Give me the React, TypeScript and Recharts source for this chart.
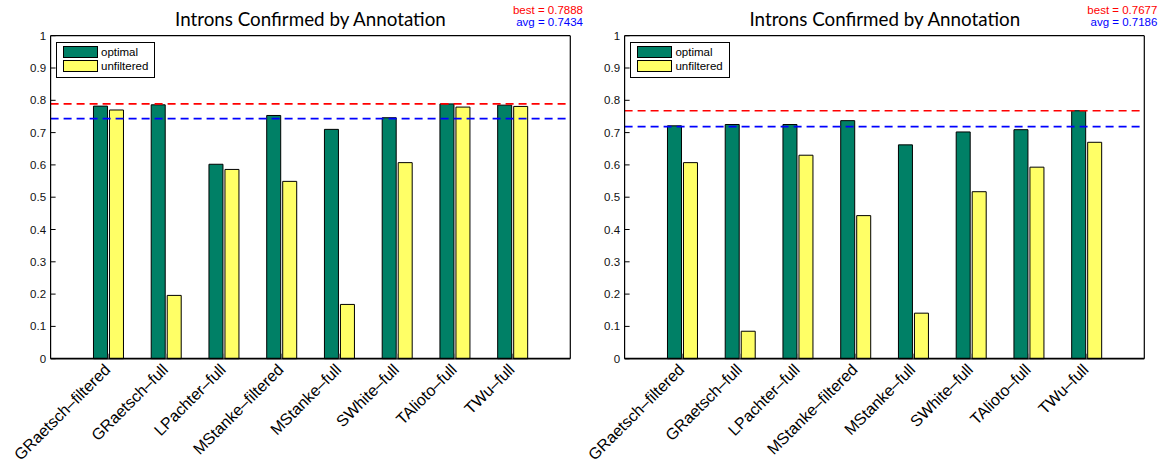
import React from 'react';
import { BarChart, Bar, XAxis, YAxis, ReferenceLine, Legend } from 'recharts';

const categories = [
  'GRaetsch–filtered',
  'GRaetsch–full',
  'LPachter–full',
  'MStanke–filtered',
  'MStanke–full',
  'SWhite–full',
  'TAlioto–full',
  'TWu–full',
];

const leftOptimal = [0.782, 0.786, 0.602, 0.753, 0.71, 0.746, 0.7888, 0.785];
const leftUnfiltered = [0.77, 0.196, 0.586, 0.549, 0.168, 0.607, 0.779, 0.781];
const leftBest = 0.7888;
const leftAvg = 0.7434;

const rightOptimal = [0.721, 0.725, 0.725, 0.737, 0.662, 0.702, 0.709, 0.7677];
const rightUnfiltered = [0.607, 0.085, 0.63, 0.443, 0.141, 0.517, 0.593, 0.67];
const rightBest = 0.7677;
const rightAvg = 0.7186;

const yTicks = [0, 0.1, 0.2, 0.3, 0.4, 0.5, 0.6, 0.7, 0.8, 0.9, 1];
const seriesNames = ['optimal', 'unfiltered'];

const GREEN = '#008066';
const YELLOW = '#ffff66';
const FONT = '"Liberation Sans", Arial, Helvetica, sans-serif';
const TITLE_FONT = 'Lato, "Open Sans", sans-serif';

const W = 593;
const H = 462;
const PLOT_LEFT = 50.6;
const PLOT_RIGHT = 570.3;
const PLOT_TOP = 35.7;

const AngledTick = (props: any) => {
  const { x, y, payload } = props;
  return (
    <g transform={`translate(${x + 3},${y}) rotate(-45)`}>
      <text x={0} y={0} textAnchor="end" fontSize={16} fontFamily={FONT} fill="#000">
        {payload.value}
      </text>
    </g>
  );
};

const LegendBox = () => (
  <div
    style={{
      border: '1px solid #000',
      background: '#fff',
      padding: '2px 6px 3px 6px',
      fontFamily: FONT,
      fontSize: 11.5,
      color: '#000',
    }}
  >
    {seriesNames.map((name, i) => (
      <div key={name} style={{ display: 'flex', alignItems: 'center', height: 14.3 }}>
        <span
          style={{
            display: 'inline-block',
            width: 33,
            height: 10,
            border: '1px solid #000',
            background: i === 0 ? GREEN : YELLOW,
            marginRight: 3,
          }}
        />
        <span>{name}</span>
      </div>
    ))}
  </div>
);

interface PanelProps {
  x: number;
  optimal: number[];
  unfiltered: number[];
  best: number;
  avg: number;
}

const Panel: React.FC<PanelProps> = ({ x, optimal, unfiltered, best, avg }) => {
  const data = categories.map((name, i) => ({
    name,
    optimal: optimal[i],
    unfiltered: unfiltered[i],
  }));
  const center = (PLOT_LEFT + PLOT_RIGHT) / 2;

  return (
    <div style={{ position: 'absolute', left: x, top: 0, width: W, height: H }}>
      <div
        style={{
          position: 'absolute',
          left: center - 200,
          width: 400,
          top: 9.3,
          textAlign: 'center',
          fontFamily: TITLE_FONT,
          fontSize: 18.8,
          lineHeight: '20px',
          color: '#000',
        }}
      >
        Introns Confirmed by Annotation
      </div>
      <div
        style={{
          position: 'absolute',
          right: W - 583,
          top: 5.3,
          textAlign: 'right',
          fontFamily: FONT,
          fontSize: 11.5,
          lineHeight: '11.5px',
          whiteSpace: 'nowrap',
        }}
      >
        <div style={{ color: '#ff0000' }}>best = {best}</div>
        <div style={{ color: '#0000ff' }}>avg = {avg}</div>
      </div>
      <BarChart
        width={W}
        height={H}
        data={data}
        margin={{ top: PLOT_TOP - 1, right: W - PLOT_RIGHT - 1, bottom: 3.3, left: PLOT_LEFT - 35 }}
        barSize={14}
        barGap={2}
      >
        <XAxis
          dataKey="name"
          height={100}
          interval={0}
          padding={{ left: 28.87, right: 28.87 }}
          axisLine={{ stroke: '#000', strokeWidth: 1.8 }}
          tickLine={{ stroke: '#666' }}
          tickSize={-5}
          tickMargin={17}
          tick={<AngledTick />}
        />
        <XAxis
          xAxisId="top"
          orientation="top"
          dataKey="name"
          height={1}
          interval={0}
          padding={{ left: 28.87, right: 28.87 }}
          axisLine={{ stroke: '#000', strokeWidth: 1.2 }}
          tickLine={{ stroke: '#000' }}
          tickSize={-5}
          tick={false}
        />
        <YAxis
          width={35}
          domain={[0, 1]}
          ticks={yTicks}
          interval={0}
          axisLine={{ stroke: '#000', strokeWidth: 1.2 }}
          tickLine={{ stroke: '#000' }}
          tickSize={-5}
          tickMargin={9.5}
          tick={{ fontSize: 11.5, fontFamily: FONT, fill: '#111' }}
          tickFormatter={(v: number) => String(Number(v.toFixed(1)))}
        />
        <YAxis
          yAxisId="r"
          orientation="right"
          width={1}
          domain={[0, 1]}
          ticks={yTicks}
          interval={0}
          axisLine={{ stroke: '#000', strokeWidth: 1.2 }}
          tickLine={{ stroke: '#000' }}
          tickSize={-5}
          tick={false}
        />
        <Legend
          layout="vertical"
          align="center"
          verticalAlign="middle"
          content={<LegendBox />}
          wrapperStyle={{ left: 56, top: 42, width: 'auto', height: 'auto' }}
        />
        <Bar dataKey="optimal" fill={GREEN} stroke="#000" strokeWidth={1} isAnimationActive={false} />
        <Bar dataKey="unfiltered" fill={YELLOW} stroke="#000" strokeWidth={1} isAnimationActive={false} />
        <ReferenceLine y={best} stroke="#ff0000" strokeWidth={1.6} strokeDasharray="8 5" />
        <ReferenceLine y={avg} stroke="#0000ff" strokeWidth={1.6} strokeDasharray="8 5" />
      </BarChart>
    </div>
  );
};

export default function App() {
  return (
    <div
      style={{
        position: 'absolute',
        left: 0,
        top: 0,
        width: 1168,
        height: 462,
        overflow: 'hidden',
        background: '#fff',
      }}
    >
      <Panel x={0} optimal={leftOptimal} unfiltered={leftUnfiltered} best={leftBest} avg={leftAvg} />
      <Panel x={574.4} optimal={rightOptimal} unfiltered={rightUnfiltered} best={rightBest} avg={rightAvg} />
    </div>
  );
}
